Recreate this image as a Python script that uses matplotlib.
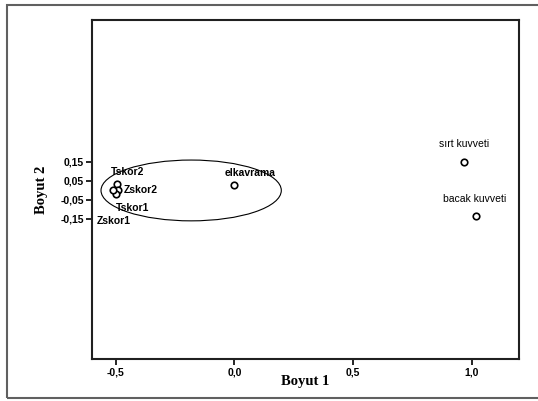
import matplotlib.pyplot as plt
from matplotlib.patches import Ellipse, Rectangle

# point coordinates (Boyut 1, Boyut 2)
labels = ["Tskor2", "Zskor2", "Tskor1", "Zskor1", "elkavrama", "sırt kuvveti", "bacak kuvveti"]
dim1 = [-0.495, -0.49, -0.50, -0.51, 0.0, 0.97, 1.02]
dim2 = [0.034, 0.003, -0.018, 0.003, 0.029, 0.15, -0.135]

# label offsets in points (dx, dy) and font style
label_offsets = [(-4, 5), (4, -4), (0, -14), (-12, -26), (-7, 5), (-18, 9), (-24, 9)]
label_bold = [True, True, True, True, True, False, False]

fig = plt.figure(figsize=(5.38, 4.01), dpi=100)

# outer frame
fig.patches.append(Rectangle((7 / 538, 3 / 401), 1.2, 393 / 401, transform=fig.transFigure,
                             fill=False, edgecolor="#606060", linewidth=1.5))

ax = fig.add_axes([92 / 538, 1 - 359 / 401, 427 / 538, 339 / 401])
ax.set_xlim(-0.60, 1.2)
ax.set_ylim(-0.887, 0.897)

ax.add_patch(Ellipse((-0.182, 0.0), 0.76, 0.32, fill=False, edgecolor="black", linewidth=0.8))

ax.scatter(dim1, dim2, s=22, facecolors="white", edgecolors="black", linewidths=1.2, zorder=3)

for name, x, y, off, bold in zip(labels, dim1, dim2, label_offsets, label_bold):
    ax.annotate(name, (x, y), xytext=off, textcoords="offset points",
                fontsize=7.5, fontweight="bold" if bold else "normal",
                family="Liberation Sans", ha="left", va="bottom")

ax.set_xticks([-0.5, 0.0, 0.5, 1.0])
ax.set_xticklabels(["-0,5", "0,0", "0,5", "1,0"])
ax.set_yticks([0.15, 0.05, -0.05, -0.15])
ax.set_yticklabels(["0,15", "0,05", "-0,05", "-0,15"])
ax.tick_params(labelsize=7.5, length=4, width=1.2, pad=2)
for lab in ax.get_xticklabels() + ax.get_yticklabels():
    lab.set_fontweight("bold")
    lab.set_family("Liberation Sans")

for sp in ax.spines.values():
    sp.set_linewidth(1.5)
    sp.set_color("#202020")

ax.set_xlabel("Boyut 1", fontsize=10.5, fontweight="bold", family="Liberation Serif", labelpad=-2)
ax.set_ylabel("Boyut 2", fontsize=10.5, fontweight="bold", family="Liberation Serif", labelpad=9)

fig.savefig("out.png", dpi=100)
